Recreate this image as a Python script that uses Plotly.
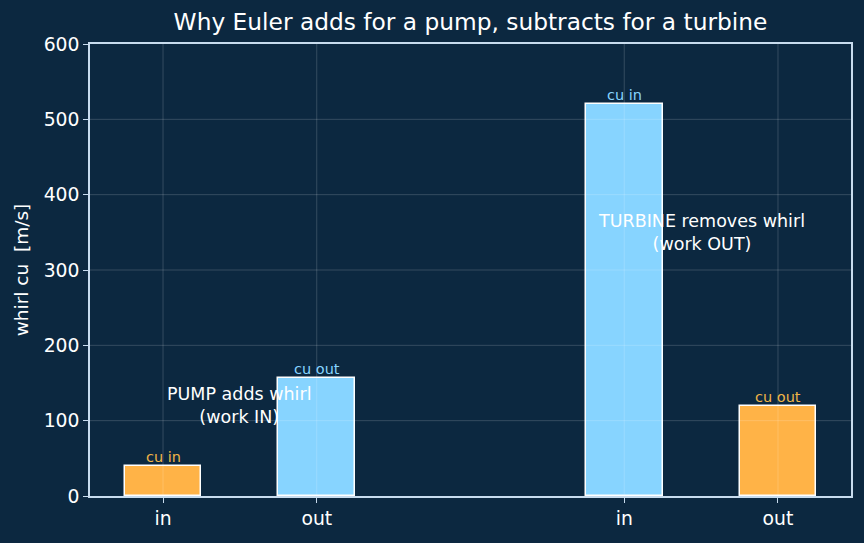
import plotly.graph_objects as go

# Data
positions = [0, 1, 3, 4]
tick_labels = ["in", "out", "in", "out"]
values = [40, 157, 520, 120]
bar_labels = ["cu in", "cu out", "cu in", "cu out"]
bar_colors = ["#ffb347", "#87d4ff", "#87d4ff", "#ffb347"]
label_colors = ["#f0b447", "#87d4ff", "#87d4ff", "#f0b447"]
notes = ["PUMP adds whirl<br>(work IN)", "TURBINE removes whirl<br>(work OUT)"]
note_x = [0.5, 3.5]
note_y = [120, 350]
y_ticks = [0, 100, 200, 300, 400, 500, 600]

BG = "#0c2840"
AX = "#c8dcee"
GRID = "rgba(255,255,255,0.17)"
FONT = "DejaVu Sans"

fig = go.Figure()

fig.add_trace(go.Bar(
    x=positions, y=values, width=0.5,
    marker=dict(color=bar_colors, line=dict(color="white", width=1.5)),
    showlegend=False,
))

for xp, v, lab, c in zip(positions, values, bar_labels, label_colors):
    fig.add_annotation(x=xp, y=v, text=lab, showarrow=False,
                       yanchor="bottom", yshift=-1,
                       font=dict(family=FONT, size=14.5, color=c))

for nx, ny, nt in zip(note_x, note_y, notes):
    fig.add_annotation(x=nx, y=ny, text=nt, showarrow=False,
                       xanchor="center", yanchor="middle", align="center",
                       font=dict(family=FONT, size=17.5, color="white"))

# grid drawn above the bars
for xp in positions:
    fig.add_shape(type="line", xref="x", yref="paper", x0=xp, x1=xp, y0=0, y1=1,
                  line=dict(color=GRID, width=1), layer="above")
for yt in y_ticks[1:-1]:
    fig.add_shape(type="line", xref="paper", yref="y", x0=0, x1=1, y0=yt, y1=yt,
                  line=dict(color=GRID, width=1), layer="above")

fig.update_layout(
    width=864, height=543,
    paper_bgcolor=BG, plot_bgcolor=BG,
    margin=dict(l=90, r=13, t=44, b=47),
    title=dict(text="Why Euler adds for a pump, subtracts for a turbine",
               x=0.5, xanchor="center", xref="paper", y=1, yref="container",
               yanchor="top", pad=dict(t=14),
               font=dict(family=FONT, size=23.3, color="white")),
    font=dict(family=FONT, color="white"),
    bargap=0,
)
fig.update_xaxes(
    range=[-0.475, 4.475], tickvals=positions, ticktext=tick_labels,
    showgrid=False,
    showline=True, linecolor=AX, linewidth=1.5, mirror=True,
    ticks="outside", ticklen=5, tickcolor=AX, tickwidth=1.2,
    tickfont=dict(family=FONT, size=18.8, color="white"), zeroline=False,
)
fig.update_yaxes(
    range=[0, 600], tickvals=y_ticks,
    showgrid=False,
    showline=True, linecolor=AX, linewidth=1.5, mirror=True,
    ticks="outside", ticklen=5, tickcolor=AX, tickwidth=1.2,
    tickfont=dict(family=FONT, size=18.8, color="white"), zeroline=False,
    title=dict(text="whirl cu  [m/s]", font=dict(family=FONT, size=18.5, color="white"),
               standoff=10),
)

fig.write_html("out.html")
